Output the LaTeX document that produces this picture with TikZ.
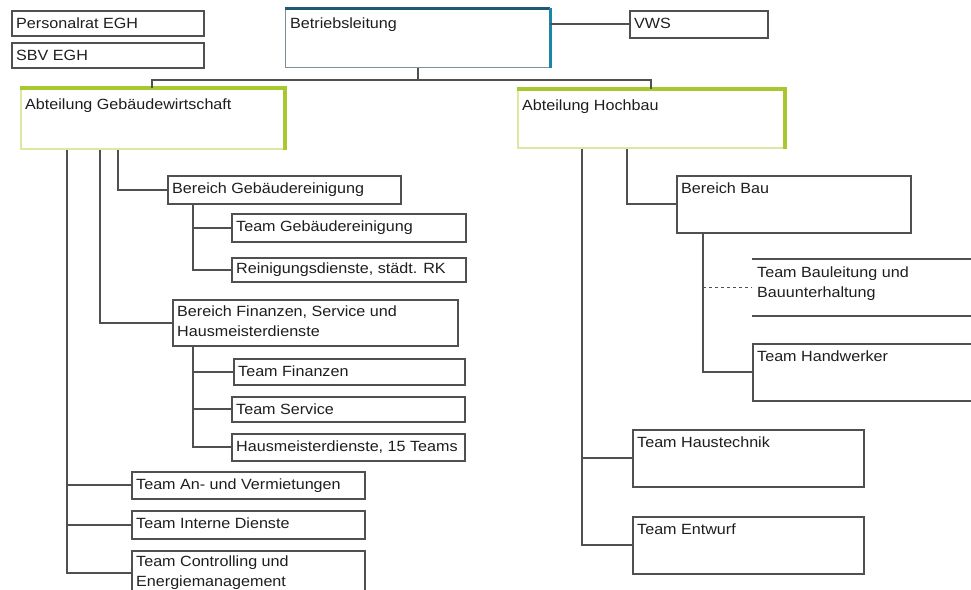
\documentclass[tikz,border=0pt]{standalone}
\usepackage{fontspec}
\setmainfont{Liberation Sans}[FakeStretch=1.09]
\usetikzlibrary{calc}
\definecolor{ln}{HTML}{505050}
\definecolor{blueA}{HTML}{1F5A75}
\definecolor{blueB}{HTML}{1A86A8}
\definecolor{blgray}{HTML}{7F9096}
\definecolor{grn}{HTML}{A8C830}
\definecolor{grnL}{HTML}{DCE8A0}
\definecolor{txt}{HTML}{1E1E1E}
\begin{document}
\begin{tikzpicture}[x=1pt,y=-1pt,
  box/.style={draw=ln, line width=1.9pt, rectangle, anchor=north west, inner sep=0pt, fill=white},
  lbl/.style={anchor=north west, inner xsep=5pt, inner ysep=8pt, font=\fontsize{14.8}{20}\selectfont, text=txt, align=left},
  con/.style={draw=ln, line width=2pt},
  abt/.style={box, draw=grnL, line width=1.8pt},
  lblabt/.style={lbl, inner ysep=11pt},
]
\useasboundingbox (0,0) rectangle (971,589);
\clip (0,0) rectangle (971,589);

% top level
\node[box, minimum width=192pt, minimum height=25pt, label={[lbl]north west:{Personalrat EGH}}] (pr) at (11,10) {};
\node[box, minimum width=192pt, minimum height=25pt, label={[lbl]north west:{SBV EGH}}] (sbv) at (11,42) {};
\node[box, draw=blgray, line width=1.3pt, minimum width=264pt, minimum height=59pt, label={[lbl, inner ysep=10pt]north west:{Betriebsleitung}}] (bl) at (285,8) {};
\draw[blueA, line width=3pt] (bl.north west) -- (bl.north east);
\draw[blueB, line width=3pt] (bl.north east) -- (bl.south east);
\node[box, minimum width=138pt, minimum height=27pt, label={[lbl]north west:{VWS}}] (vws) at (629,10) {};

% departments
\node[abt, minimum width=263pt, minimum height=60pt, label={[lblabt]north west:{Abteilung Gebäudewirtschaft}}] (ag) at (20,88) {};
\draw[grn, line width=3.5pt] (ag.north west) -- (ag.north east) -- (ag.south east);
\node[abt, minimum width=266pt, minimum height=58pt, label={[lblabt]north west:{Abteilung Hochbau}}] (ah) at (517,89) {};
\draw[grn, line width=3.5pt] (ah.north west) -- (ah.north east) -- (ah.south east);

% left subtree
\node[box, minimum width=233pt, minimum height=28pt, label={[lbl]north west:{Bereich Gebäudereinigung}}] (bg) at (167,175) {};
\node[box, minimum width=234pt, minimum height=28pt, label={[lbl]north west:{Team Gebäudereinigung}}] (tg) at (231,213) {};
\node[box, minimum width=234pt, minimum height=24pt, label={[lbl, inner ysep=6pt]north west:{Reinigungsdienste, städt. RK}}] (rd) at (231,257) {};
\node[box, minimum width=285pt, minimum height=46pt, label={[lbl, inner ysep=7pt]north west:{Bereich Finanzen, Service und\\Hausmeisterdienste}}] (bf) at (172,299) {};
\node[box, minimum width=231pt, minimum height=26pt, label={[lbl]north west:{Team Finanzen}}] (tf) at (233,358) {};
\node[box, minimum width=233pt, minimum height=25pt, label={[lbl]north west:{Team Service}}] (ts) at (231,396) {};
\node[box, minimum width=233pt, minimum height=27pt, label={[lbl]north west:{Hausmeisterdienste, 15 Teams}}] (hm) at (231,433) {};
\node[box, minimum width=233pt, minimum height=27pt, label={[lbl]north west:{Team An- und Vermietungen}}] (tav) at (131,471) {};
\node[box, minimum width=233pt, minimum height=28pt, label={[lbl]north west:{Team Interne Dienste}}] (tid) at (131,510) {};
\node[box, minimum width=233pt, minimum height=44pt, label={[lbl, inner ysep=6pt]north west:{Team Controlling und\\Energiemanagement}}] (tce) at (131,550) {};

% right subtree
\node[box, minimum width=234pt, minimum height=57pt, label={[lbl]north west:{Bereich Bau}}] (bb) at (676,175) {};
\node[minimum width=240pt, minimum height=57pt, anchor=north west, inner sep=0pt, label={[lbl]north west:{Team Bauleitung und\\Bauunterhaltung}}] (tbl) at (752,259) {};
\draw[ln, line width=1.9pt] (tbl.north west) -- (tbl.north east);
\draw[ln, line width=1.9pt] (tbl.south west) -- (tbl.south east);
\node[box, minimum width=240pt, minimum height=57pt, label={[lbl]north west:{Team Handwerker}}] (thw) at (752,343) {};
\node[box, minimum width=231pt, minimum height=57pt, label={[lbl]north west:{Team Haustechnik}}] (tht) at (632,429) {};
\node[box, minimum width=231pt, minimum height=57pt, label={[lbl]north west:{Team Entwurf}}] (te) at (632,516) {};

% connectors top
\coordinate (bus) at (416,80);
\draw[con] (bl.south) -- (bl.south |- bus);
\draw[con] (ag.north) |- (ah.north |- bus) -- (ah.north);
\draw[con] (vws.west) -- (vws.west -| bl.east);

% connectors left
\draw[con] ($(ag.south west)+(47,0)$) |- (tce.west);
\draw[con] ($(ag.south west)+(47,0)$) |- (tav.west);
\draw[con] ($(ag.south west)+(47,0)$) |- (tid.west);
\draw[con] ($(ag.south west)+(80,0)$) |- (bf.west);
\draw[con] ($(ag.south west)+(98,0)$) |- (bg.west);
\draw[con] ($(bg.south west)+(26,0)$) |- (rd.west);
\draw[con] ($(bg.south west)+(26,0)$) |- (tg.west);
\draw[con] ($(bf.south west)+(21,0)$) |- (hm.west);
\draw[con] ($(bf.south west)+(21,0)$) |- (ts.west);
\draw[con] ($(bf.south west)+(21,0)$) |- (tf.west);

% connectors right
\draw[con] ($(ah.south west)+(65,0)$) |- (te.west);
\draw[con] ($(ah.south west)+(65,0)$) |- (tht.west);
\draw[con] ($(ah.south west)+(110,0)$) |- (bb.west);
\draw[con] ($(bb.south west)+(27,0)$) |- (thw.west);
\draw[con, dashed, line width=1.5pt] ($(bb.south west)+(27,0)$) |- (tbl.west);
\end{tikzpicture}
\end{document}
